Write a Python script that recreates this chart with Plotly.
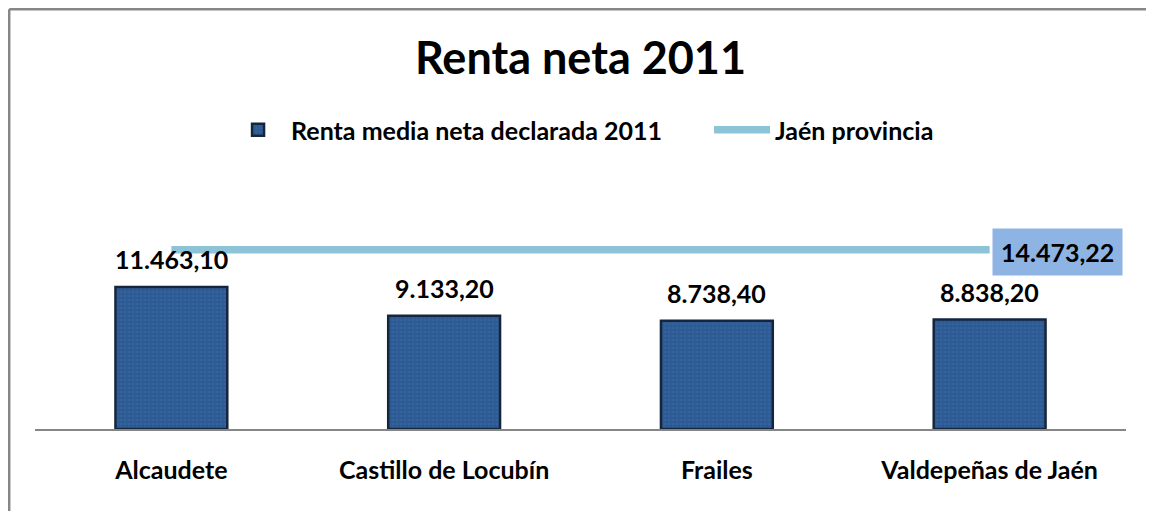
import plotly.graph_objects as go

categories = ["Alcaudete", "Castillo de Locubín", "Frailes", "Valdepeñas de Jaén"]
renta_media = [11463.10, 9133.20, 8738.40, 8838.20]
jaen_provincia = [14473.22, 14473.22, 14473.22, 14473.22]

FONT = "Lato"
BOLD = dict(family=FONT, color="#000000", weight="bold")

fig = go.Figure()
fig.add_trace(go.Bar(
    x=categories, y=renta_media, name="Renta media neta declarada 2011",
    marker=dict(color="#2D5A93", line=dict(color="#15263C", width=2.5),
                pattern=dict(shape=".", fgcolor="#3D6CA6", size=4, solidity=0.35)),
    width=0.41, legend="legend",
))
fig.add_trace(go.Scatter(
    x=categories, y=jaen_provincia, name="Jaén provincia", mode="lines",
    line=dict(color="#8DC3D6", width=7.5), legend="legend2",
))

def fmt(v):
    s = f"{v:,.2f}"
    return s.replace(",", "X").replace(".", ",").replace("X", ".")

for c, v in zip(categories, renta_media):
    fig.add_annotation(x=c, y=v, text=fmt(v), showarrow=False, yanchor="bottom",
                       yshift=11, font=dict(size=25, **BOLD))

fig.add_annotation(x=categories[-1], y=jaen_provincia[-1], text=fmt(jaen_provincia[-1]),
                   showarrow=False, xanchor="left", yanchor="middle", xshift=2, yshift=-2,
                   bgcolor="#8EB4E3", borderpad=8,
                   font=dict(size=25, **BOLD))

# chart border (top and left edges visible)
PX0 = (1.2 - 27) / 1091
PY1 = (421 - 1.2) / 223
fig.add_shape(type="line", xref="paper", yref="paper", x0=PX0, x1=1.05, y0=PY1, y1=PY1,
              line=dict(color="#878787", width=2.5))
fig.add_shape(type="line", xref="paper", yref="paper", x0=PX0, x1=PX0, y0=PY1, y1=-0.5,
              line=dict(color="#878787", width=2.5))
fig.update_shapes(layer="above")

LEG_Y = (421 - 122) / 223
fig.update_layout(
    width=1154, height=511,
    margin=dict(l=27, r=36, t=198, b=90),
    paper_bgcolor="white", plot_bgcolor="white",
    title=dict(text="Renta neta 2011", x=0.5, xref="paper", xanchor="center",
               y=1 - 50 / 511, yanchor="middle", font=dict(size=45, **BOLD)),
    legend=dict(orientation="h", x=0.1742, xanchor="left", y=LEG_Y, yanchor="middle",
                font=dict(size=25, **BOLD), itemwidth=56),
    legend2=dict(orientation="h", x=0.6178, xanchor="left", y=LEG_Y, yanchor="middle",
                 font=dict(size=25, **BOLD), itemwidth=56),
    showlegend=True,
    bargap=0.59,
    xaxis=dict(showline=True, linecolor="#868686", linewidth=1.5, ticks="",
               tickfont=dict(size=25, **BOLD), ticklabelstandoff=18),
    yaxis=dict(visible=False, range=[0, 18000]),
)
fig.write_html("out.html")
